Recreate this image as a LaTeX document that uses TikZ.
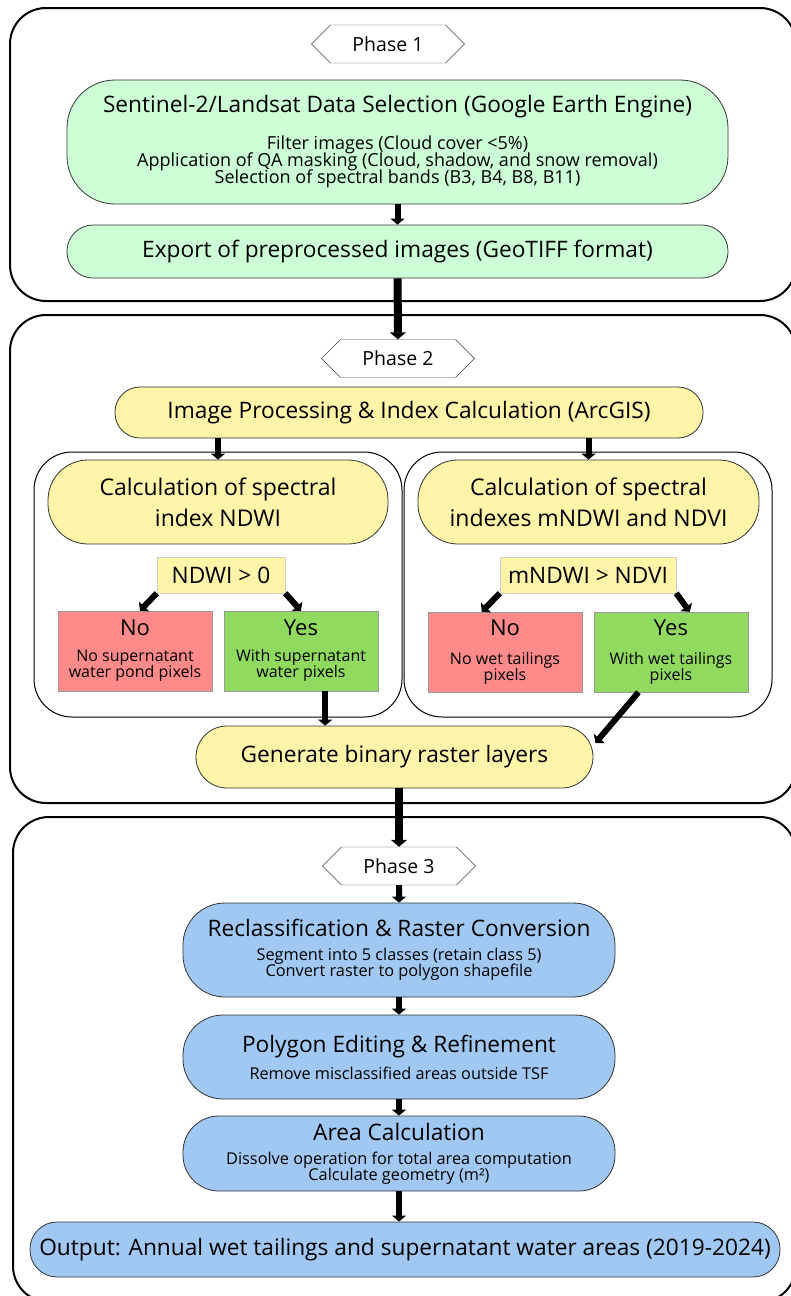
\documentclass[tikz,border=0pt]{standalone}
\usepackage{fontspec}
\setmainfont{Open Sans}
\usetikzlibrary{shapes.symbols,arrows.meta,calc}
\definecolor{mint}{HTML}{CCFFD6}
\definecolor{sand}{HTML}{FFF4A8}
\definecolor{salmon}{HTML}{FF8A8A}
\definecolor{leaf}{HTML}{8FDA5F}
\definecolor{sky}{HTML}{A1C8F3}
\newcommand{\headfont}{\fontsize{22.7}{26}\selectfont}
\newcommand{\tagfont}{\fontsize{19.5}{24}\selectfont}
\newcommand{\sizeskip}[2]{\fontsize{#1}{#2}\selectfont\lineskiplimit=-20pt}
\tikzset{
	phase/.style={draw=black!75,fill=white,signal,signal to=west and east,signal pointer angle=90,
		minimum width=153pt,minimum height=38pt,inner sep=0pt,font=\tagfont},
	frame/.style={draw,line width=2pt,rounded corners=36pt},
	holder/.style={draw,line width=1pt,rounded corners=38pt},
	pill/.style={draw=black!80,line width=0.8pt,align=center,inner sep=0pt,font=\headfont},
	test/.style={draw=black!20,fill=sand,align=center,inner sep=0pt,font=\headfont},
	answer/.style={draw=black!40,align=center,inner sep=0pt,minimum width=154pt,minimum height=80pt,
		font=\sizeskip{16}{16}},
	flow/.style={line width=6pt,-{Triangle[length=6pt,width=14pt]}},
	bigflow/.style={line width=8pt,-{Triangle[length=7pt,width=16pt]}}
}
\begin{document}
\begin{tikzpicture}[x=1pt,y=-1pt]
	\useasboundingbox (0,0) rectangle (791,1296);
	\draw[frame] (10,8) rectangle (796,301);
	\draw[frame] (10,315) rectangle (796,803);
	\draw[frame] (13,817) rectangle (796,1302);
	\draw[holder] (34,452) rectangle (402,717);
	\draw[holder] (404,452) rectangle (772,717);

	\node[phase] at (388,44)(ph1){Phase 1};
	\node[pill,fill=mint,minimum width=661pt,minimum height=124pt,rounded corners=48pt,
		font=\sizeskip{18}{17}] at (397.5,142)(sel)
		{{\headfont Sentinel-2/Landsat Data Selection (Google Earth Engine)}\\[20pt]
		Filter images (Cloud cover <5\%)\\
		Application of QA masking (Cloud, shadow, and snow removal)\\
		Selection of spectral bands (B3, B4, B8, B11)};
	\node[pill,fill=mint,minimum width=661pt,minimum height=53pt,rounded corners=26pt] at (397.5,251.5)(exp)
		{Export of preprocessed images (GeoTIFF format)};

	\node[phase] at (398,358.5)(ph2){Phase 2};
	\node[pill,fill=sand,minimum width=588pt,minimum height=51pt,rounded corners=25pt] at (409,412.5)(proc)
		{Image Processing \& Index Calculation (ArcGIS)};
	\node[pill,fill=sand,minimum width=340pt,minimum height=84pt,rounded corners=40pt,
		font=\sizeskip{23}{31}] at (218,502)(ndwi){Calculation of spectral\\index NDWI};
	\node[pill,fill=sand,minimum width=341pt,minimum height=84pt,rounded corners=40pt,
		font=\sizeskip{23}{31}] at (588.5,502)(mndwi){Calculation of spectral\\indexes mNDWI and NDVI};
	\node[test,minimum width=128pt,minimum height=36pt] at (221,575)(t1){NDWI > 0};
	\node[test,minimum width=176pt,minimum height=36pt] at (588,575)(t2){mNDWI > NDVI};
	\node[answer,fill=salmon] at (135,651)(no1){{\fontsize{22}{26}\selectfont No}\\[10pt]No supernatant\\water pond pixels};
	\node[answer,fill=leaf] at (301,651)(yes1){{\fontsize{22}{26}\selectfont Yes}\\[10pt]With supernatant\\water pixels};
	\node[answer,fill=salmon] at (505,652)(no2){{\fontsize{22}{26}\selectfont No}\\[13pt]No wet tailings\\pixels};
	\node[answer,fill=leaf] at (671,652)(yes2){{\fontsize{22}{26}\selectfont Yes}\\[13pt]With wet tailings\\pixels};
	\node[pill,fill=sand,minimum width=397pt,minimum height=62pt,rounded corners=31pt] at (394.5,757)(gen)
		{Generate binary raster layers};

	\node[phase] at (399,866)(ph3){Phase 3};
	\node[pill,fill=sky,minimum width=432pt,minimum height=94pt,rounded corners=42pt,
		font=\sizeskip{16.3}{16}] at (399,950)(recl)
		{{\headfont Reclassification \& Raster Conversion}\\[8pt]
		Segment into 5 classes (retain class 5)\\
		Convert raster to polygon shapefile};
	\node[pill,fill=sky,minimum width=432pt,minimum height=84pt,rounded corners=40pt,
		font=\sizeskip{16.3}{16}] at (399,1057)(poly)
		{{\headfont Polygon Editing \& Refinement}\\[11pt]
		Remove misclassified areas outside TSF};
	\node[pill,fill=sky,minimum width=432pt,minimum height=75pt,rounded corners=36pt,
		font=\sizeskip{16.3}{16}] at (399,1153.5)(area)
		{{\headfont Area Calculation}\\[8pt]
		Dissolve operation for total area computation\\
		Calculate geometry (m²)};
	\node[pill,fill=sky,minimum width=750pt,minimum height=55pt,rounded corners=27pt] at (405,1249.5)(out)
		{Output: Annual wet tailings and supernatant water areas (2019-2024)};

	\path[flow]
		(sel) edge (exp)
		(proc.south -| ndwi.north) edge (ndwi.north)
		(proc.south -| mndwi.north) edge (mndwi.north)
		(t1.south west) edge (no1.83)
		(t1.south east) edge (yes1.north)
		(t2.south west) edge (no2.120)
		(t2.south east) edge (yes2.65)
		(yes1.-59) edge (yes1.-59 |- gen.north)
		(yes2.-129) edge ($(gen.east)+(2,-14)$)
		(ph3) edge (recl)
		(recl) edge (poly)
		(poly) edge (area)
		(area.south) edge (area.south |- out.north);
	\path[bigflow]
		(exp) edge (ph2)
		(ph3.north |- gen.south) edge (ph3.north);
\end{tikzpicture}
\end{document}
